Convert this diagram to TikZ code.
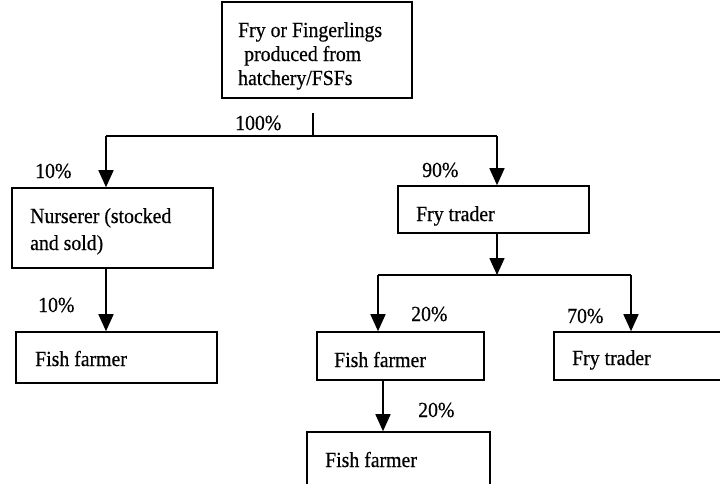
\documentclass[tikz,border=0pt]{standalone}
\usepackage{fontspec}
\setmainfont{Liberation Serif}[FakeBold=0.5, FakeStretch=0.92]
\usetikzlibrary{arrows.meta}
\begin{document}
\begin{tikzpicture}[x=1pt,y=-1pt,
  font=\fontsize{21.5}{25}\selectfont,
  box/.style={draw, line width=1.6pt, inner sep=0pt},
  txt/.style={inner sep=0pt, anchor=base west},
  ln/.style={line width=1.6pt},
  arr/.style={line width=1.6pt, -{Triangle[length=17pt,width=15pt]}}]
\useasboundingbox (0,0) rectangle (720,483);
\clip (0,0) rectangle (720,483);
% boxes
\node[box, minimum width=190pt, minimum height=96pt] (src) at (317,50) {};
\node[box, minimum width=201pt, minimum height=80pt] (nurs) at (112.5,228) {};
\node[box, minimum width=201pt, minimum height=51pt] (ffl) at (116.5,357.5) {};
\node[box, minimum width=191pt, minimum height=47pt] (ftm) at (493.5,209.5) {};
\node[box, minimum width=167pt, minimum height=48pt] (ffm) at (400.5,356) {};
\node[box, minimum width=186pt, minimum height=48pt] (ftr) at (647,356) {};
\node[box, minimum width=183pt, minimum height=60pt] (ffb) at (398.5,462) {};
% box texts
\node[txt] (srcA) at (238,37) {Fry or Fingerlings};
\node[txt] (srcB) at (244,61) {produced from};
\node[txt] (srcC) at (238,85) {hatchery/FSFs};
\node[txt] (nursA) at (30,223) {Nurserer (stocked};
\node[txt] (nursB) at (30,250) {and sold)};
\node[txt] (fflT) at (35,366) {Fish farmer};
\node[txt] (ftmT) at (416,221) {Fry trader};
\node[txt] (ffmT) at (334,367) {Fish farmer};
\node[txt] (ftrT) at (572,365) {Fry trader};
\node[txt] (ffbT) at (325,467) {Fish farmer};
% labels
\node[txt] (p100) at (235,130) {100\%};
\node[txt] (p10a) at (35,178) {10\%};
\node[txt] (p90) at (422,177) {90\%};
\node[txt] (p10b) at (38,312) {10\%};
\node[txt] (p20a) at (411,321) {20\%};
\node[txt] (p70) at (567,323) {70\%};
\node[txt] (p20b) at (418,417) {20\%};
% junctions
\coordinate (tickTop) at (313,113);
\coordinate (tickBot) at (313,136);
\coordinate (jl) at (106,136);
\coordinate (jr) at (497,136);
\coordinate (j2l) at (378,275);
\coordinate (j2r) at (631,275);
\coordinate (j2m) at (497,275);
\coordinate (fmx) at (383,0);
% connectors
\draw[ln] (tickTop) -- (tickBot);
\draw[ln] (jl) -- (jr);
\draw[arr] (jl) -- (jl |- nurs.north);
\draw[arr] (jr) -- (jr |- ftm.north);
\draw[arr] (jl |- nurs.south) -- (jl |- ffl.north);
\draw[arr] (j2m |- ftm.south) -- (j2m);
\draw[ln] (j2l) -- (j2r);
\draw[arr] (j2l) -- (j2l |- ffm.north);
\draw[arr] (j2r) -- (j2r |- ftr.north);
\draw[arr] (fmx |- ffm.south) -- (fmx |- ffb.north);
\end{tikzpicture}
\end{document}
